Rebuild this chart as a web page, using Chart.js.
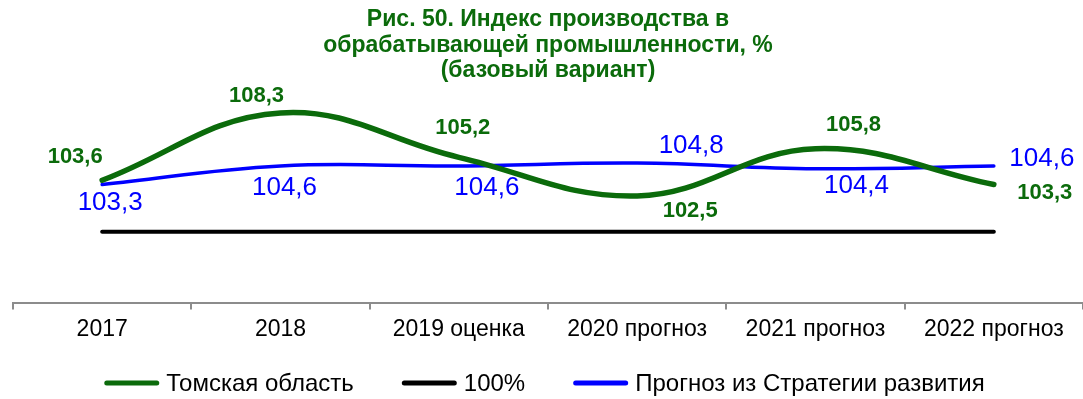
<!DOCTYPE html>
<html>
<head>
<meta charset="utf-8">
<script src="https://cdn.jsdelivr.net/npm/chart.js@4.4.1/dist/chart.umd.min.js"></script>
<style>
  html, body { margin: 0; padding: 0; background: #ffffff; }
  #wrap { width: 1083px; height: 399px; }
</style>
</head>
<body>
<div id="wrap"><canvas id="chart" width="1083" height="399"></canvas></div>
<script>
// Categories and series
const categories = ['2017', '2018', '2019 оценка', '2020 прогноз', '2021 прогноз', '2022 прогноз'];
const tomskValues = [103.6, 108.3, 105.2, 102.5, 105.8, 103.3];
const baseValues = [100, 100, 100, 100, 100, 100];
const strategyValues = [103.3, 104.6, 104.6, 104.8, 104.4, 104.6];

const titleLines = ['Рис. 50. Индекс производства в', 'обрабатывающей промышленности, %', '(базовый вариант)'];

const GREEN = '#0b6b0b';
const BLUE = '#0000ff';
const FONT = "Arial, 'Liberation Sans', sans-serif";

// Where each value label sits relative to its point (px)
const tomskLabelShift = [[-27, -23], [-24, -17], [4, -29], [53, 15], [38, -24], [51, 8]];
const strategyLabelShift = [[8, 18], [4, 22], [28, 22], [54, -17], [41, 17], [48, -7]];

const fmt = v => v.toFixed(1).replace('.', ',');

// Value labels next to the points of the green and blue series
const valueLabels = {
  id: 'valueLabels',
  afterDatasetsDraw(chart) {
    const ctx = chart.ctx;
    const specs = [
      { index: 0, shift: tomskLabelShift, color: GREEN, font: 'bold 22px ' + FONT },
      { index: 2, shift: strategyLabelShift, color: BLUE, font: '26px ' + FONT }
    ];
    ctx.save();
    ctx.textAlign = 'center';
    ctx.textBaseline = 'middle';
    specs.forEach(s => {
      const meta = chart.getDatasetMeta(s.index);
      const values = chart.data.datasets[s.index].data;
      ctx.fillStyle = s.color;
      ctx.font = s.font;
      meta.data.forEach((pt, i) => {
        ctx.fillText(fmt(values[i]), pt.x + s.shift[i][0], pt.y + s.shift[i][1]);
      });
    });
    ctx.restore();
  }
};

// Single-row legend under the axis: line sample followed by the series name
const lineLegend = {
  id: 'lineLegend',
  afterDraw(chart) {
    const ctx = chart.ctx;
    const sample = 50, cap = 2.5, gap = 7, spacing = 48;
    const y = 383;
    ctx.save();
    ctx.font = '24px ' + FONT;
    ctx.textBaseline = 'middle';
    ctx.textAlign = 'left';
    const items = chart.data.datasets.map(ds => ({
      text: ds.label, color: ds.borderColor, w: ctx.measureText(ds.label).width
    }));
    const total = items.reduce((s, it) => s + sample + 2 * cap + gap + it.w, 0) + spacing * (items.length - 1);
    let x = chart.width / 2 + 3 - total / 2;
    items.forEach(it => {
      ctx.strokeStyle = it.color;
      ctx.lineWidth = 5;
      ctx.lineCap = 'round';
      ctx.beginPath();
      ctx.moveTo(x + cap, y);
      ctx.lineTo(x + cap + sample, y);
      ctx.stroke();
      x += sample + 2 * cap + gap;
      ctx.fillStyle = '#000000';
      ctx.fillText(it.text, x, y + 1);
      x += it.w + spacing;
    });
    ctx.restore();
  }
};

new Chart(document.getElementById('chart'), {
  type: 'line',
  data: {
    labels: categories,
    datasets: [
      {
        label: 'Томская область',
        data: tomskValues,
        borderColor: GREEN,
        backgroundColor: GREEN,
        borderWidth: 5.5,
        tension: 0.4,
        pointRadius: 0,
        borderCapStyle: 'round',
        borderJoinStyle: 'round',
        fill: false
      },
      {
        label: '100%',
        data: baseValues,
        borderColor: '#000000',
        backgroundColor: '#000000',
        borderWidth: 4,
        tension: 0,
        pointRadius: 0,
        borderCapStyle: 'round',
        fill: false
      },
      {
        label: 'Прогноз из Стратегии развития',
        data: strategyValues,
        borderColor: BLUE,
        backgroundColor: BLUE,
        borderWidth: 3.5,
        tension: 0.4,
        pointRadius: 0,
        borderCapStyle: 'round',
        borderJoinStyle: 'round',
        fill: false
      }
    ]
  },
  options: {
    responsive: false,
    animation: false,
    devicePixelRatio: 1,
    layout: { padding: { left: 13, right: 0, top: 0, bottom: 50 } },
    plugins: {
      title: {
        display: true,
        text: titleLines,
        color: GREEN,
        font: { family: FONT, size: 23, weight: 'bold', lineHeight: 1.11 },
        padding: { top: 7, bottom: 5 }
      },
      legend: { display: false },
      tooltip: { enabled: false }
    },
    scales: {
      x: {
        offset: true,
        grid: {
          display: true,
          offset: true,
          drawOnChartArea: false,
          drawTicks: true,
          tickLength: 6,
          color: '#8c8c8c',
          lineWidth: 2
        },
        border: { display: true, color: '#8c8c8c', width: 2 },
        ticks: {
          color: '#000000',
          font: { family: FONT, size: 23 },
          padding: 6,
          maxRotation: 0,
          autoSkip: false
        }
      },
      y: {
        display: false,
        min: 95,
        max: 110
      }
    }
  },
  plugins: [valueLabels, lineLegend]
});
</script>
</body>
</html>
